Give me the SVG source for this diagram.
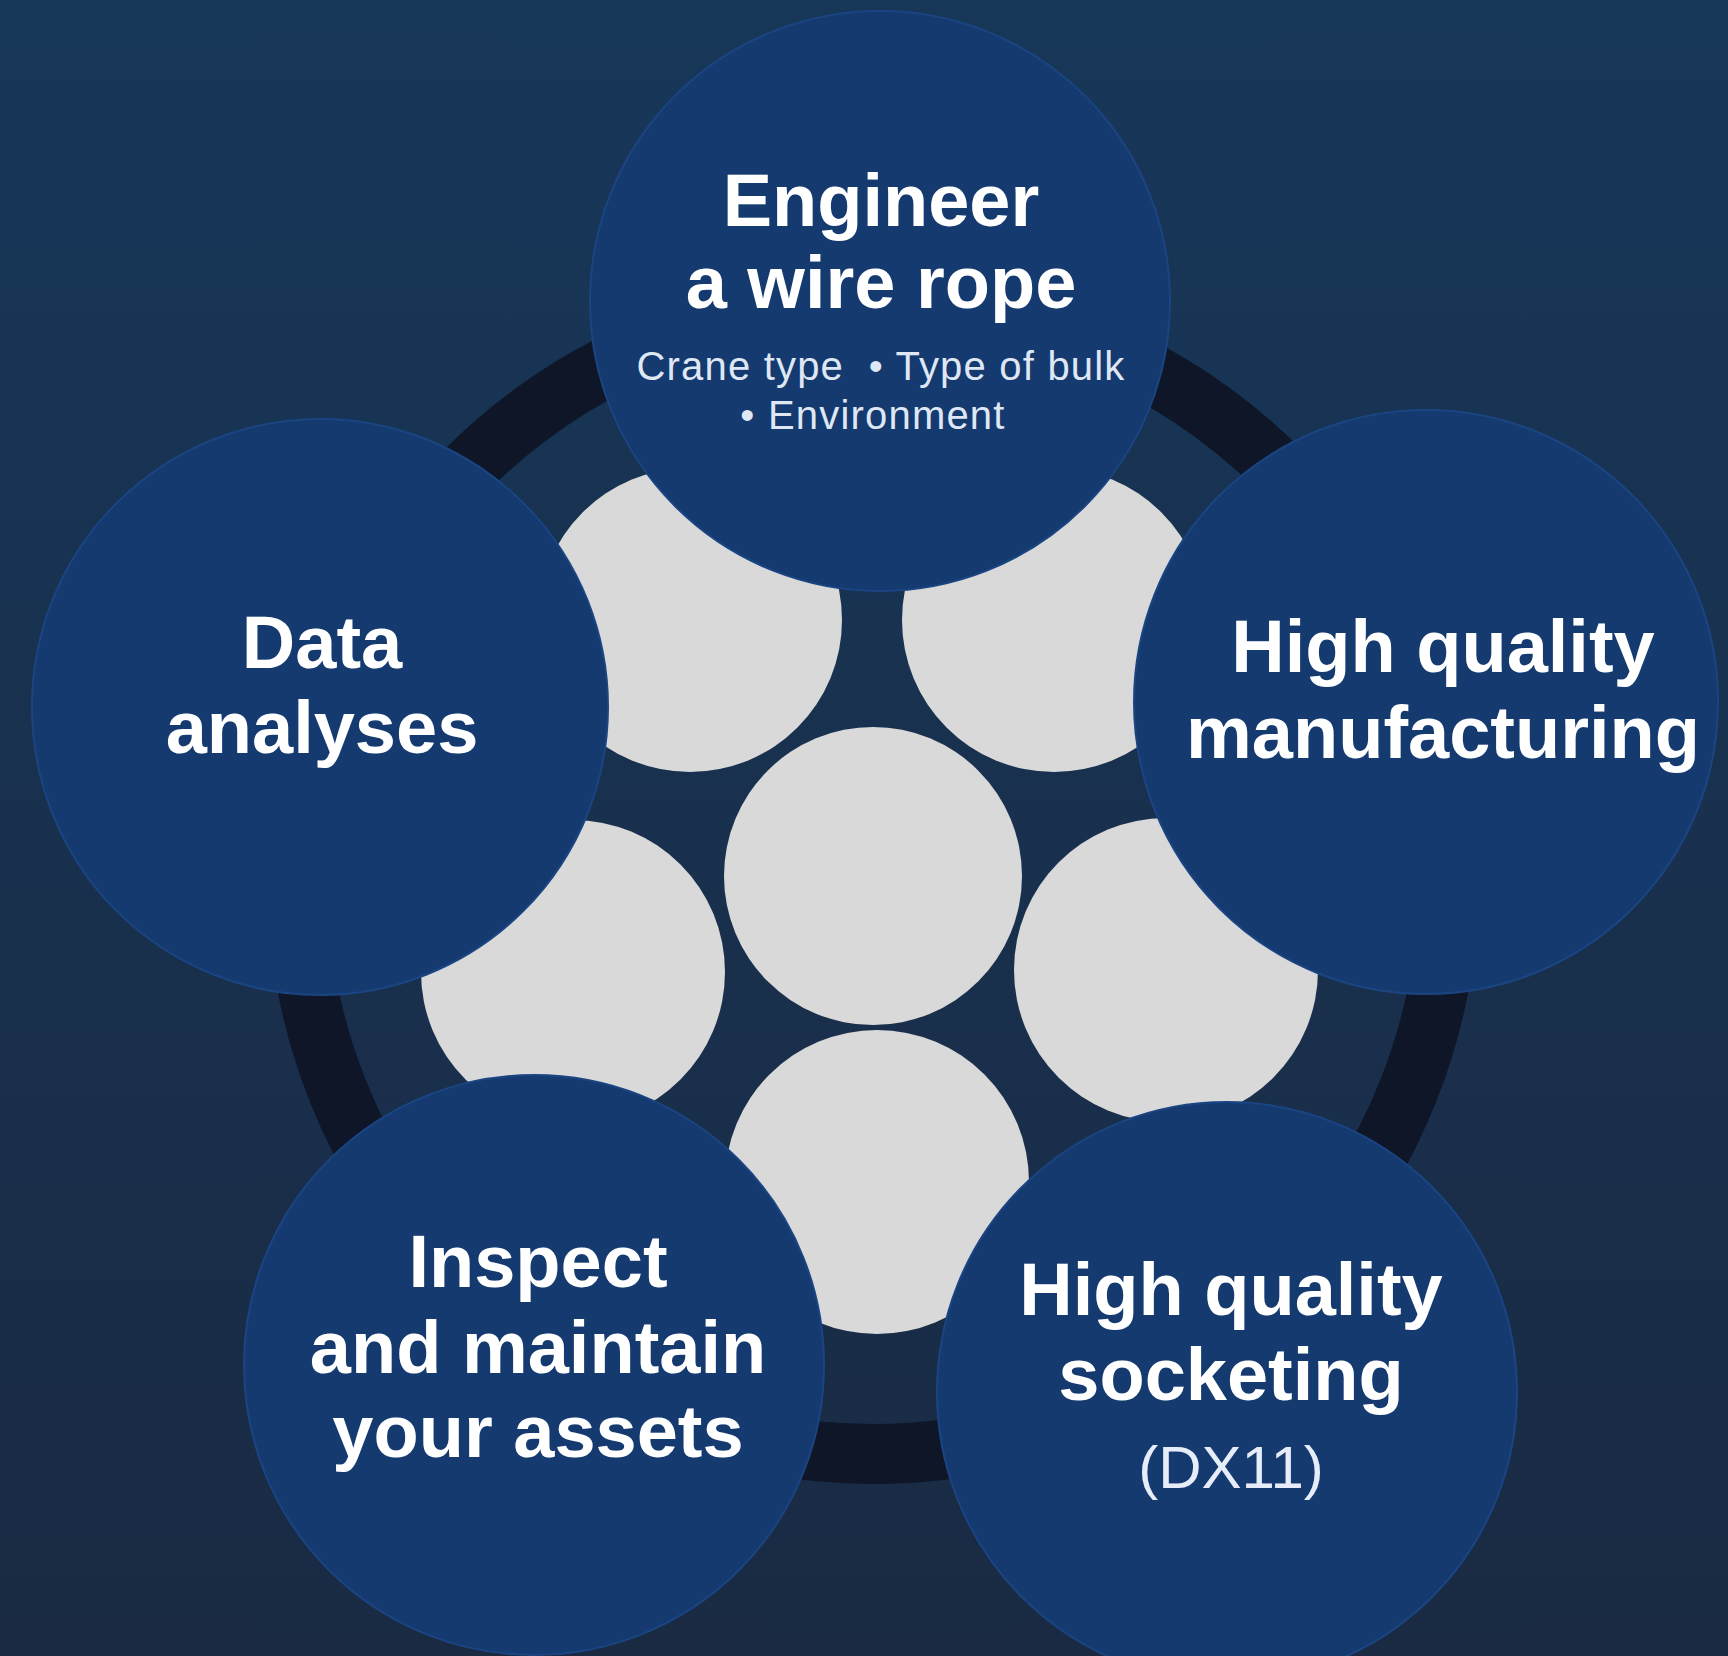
<svg xmlns="http://www.w3.org/2000/svg" width="1728" height="1656" viewBox="0 0 1728 1656">
  <defs>
    <linearGradient id="bg" x1="0" y1="0" x2="0" y2="1">
      <stop offset="0" stop-color="#173759"/>
      <stop offset="1" stop-color="#1a2a43"/>
    </linearGradient>
    <style>
      .blue { fill: #143a70; stroke: #1b4582; stroke-width: 2; }
      .strand { fill: #d9d9d9; }
      .ring { fill: none; stroke: #0e1628; stroke-width: 60; }
      .title { font-family: "Liberation Sans", Arial, sans-serif; font-weight: 700; font-size: 74px; fill: #ffffff; text-anchor: middle; }
      .sub { font-family: "Liberation Sans", Arial, sans-serif; font-weight: 400; font-size: 40px; letter-spacing: 1.2px; fill: #dfe7f4; text-anchor: middle; white-space: pre; }
      .paren { font-family: "Liberation Sans", Arial, sans-serif; font-weight: 400; font-size: 60px; fill: #e6edf8; text-anchor: middle; }
    </style>
  </defs>
  <rect width="1728" height="1656" fill="url(#bg)"/>

  <g id="rope">
    <circle class="ring" cx="873" cy="878" r="576"/>
    <circle class="strand" cx="873" cy="876" r="149"/>
    <circle class="strand" cx="877" cy="1182" r="152"/>
    <circle class="strand" cx="573" cy="972" r="152"/>
    <circle class="strand" cx="690" cy="620" r="152"/>
    <circle class="strand" cx="1054" cy="620" r="152"/>
    <circle class="strand" cx="1166" cy="970" r="152"/>
  </g>

  <g id="connectors"/>

  <g id="node-engineer">
    <circle class="blue" cx="880" cy="301" r="290"/>
    <text class="title" x="881" y="226">Engineer</text>
    <text class="title" x="881" y="308">a wire rope</text>
    <text class="sub" x="881" y="380">Crane type  • Type of bulk</text>
    <text class="sub" x="873" y="429">• Environment</text>
  </g>

  <g id="node-data">
    <circle class="blue" cx="320" cy="707" r="288"/>
    <text class="title" x="322" y="668">Data</text>
    <text class="title" x="322" y="753">analyses</text>
  </g>

  <g id="node-manufacturing">
    <circle class="blue" cx="1426" cy="702" r="292"/>
    <text class="title" x="1443" y="672">High quality</text>
    <text class="title" x="1443" y="758">manufacturing</text>
  </g>

  <g id="node-inspect">
    <circle class="blue" cx="534" cy="1365" r="290"/>
    <text class="title" x="538" y="1287">Inspect</text>
    <text class="title" x="538" y="1373">and maintain</text>
    <text class="title" x="538" y="1457">your assets</text>
  </g>

  <g id="node-socketing">
    <circle class="blue" cx="1227" cy="1392" r="290"/>
    <text class="title" x="1231" y="1315">High quality</text>
    <text class="title" x="1231" y="1400">socketing</text>
    <text class="paren" x="1231" y="1488">(DX11)</text>
  </g>
</svg>
